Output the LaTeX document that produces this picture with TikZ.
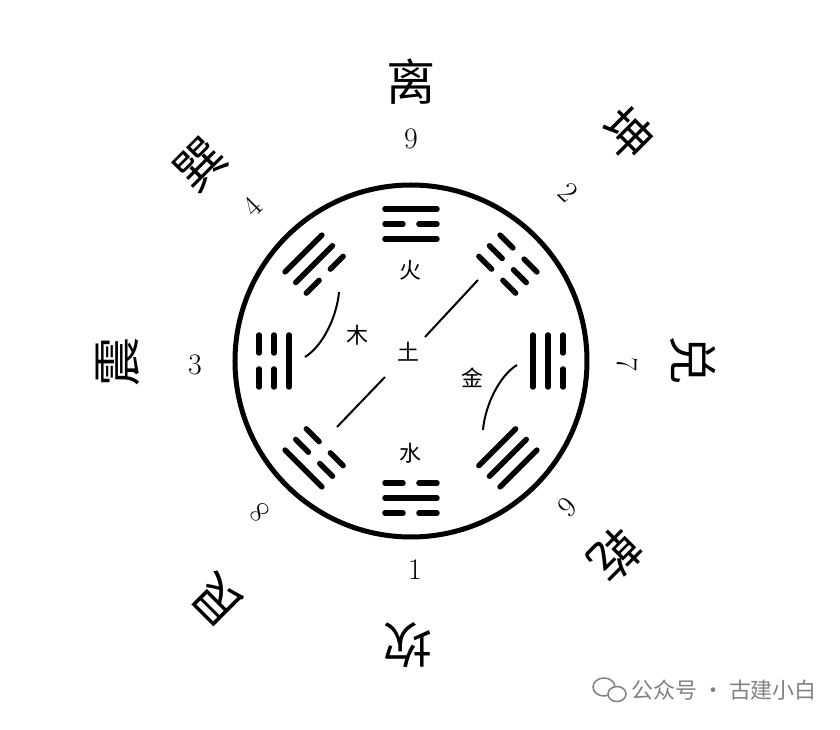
\documentclass[tikz,border=0pt]{standalone}
\usepackage{fontspec}
\newfontfamily\cjk{Noto Sans CJK SC}
\begin{document}
\begin{tikzpicture}[x=0.02cm,y=0.02cm]
		\tikzset{yao/.style={line width=0.11cm,line cap=round},
			gua/.style={font=\cjk\fontsize{28}{28}\selectfont,inner sep=0pt},
			shu/.style={font=\fontsize{17}{17}\selectfont,inner sep=0pt},
			xing/.style={font=\cjk\fontsize{12.5}{12.5}\selectfont,inner sep=0pt},
			thin/.style={line width=0.04cm}}
		\useasboundingbox (-411,-369) rectangle (429,361);
		\coordinate (o) at (0,0);
		\draw [black,line width=0.1cm] (o) circle (176);
		% trigrams, outer line first (1 solid, 0 broken)
		\foreach \ang/\a/\b/\c in {90/1/0/1, 45/0/0/0, 0/0/1/1, -45/1/1/1,
			-90/0/1/0, -135/1/0/0, 180/0/0/1, 135/1/1/0} {
			\begin{scope}[rotate=\ang-90]
				\foreach \r/\s in {152/\a,137/\b,122/\c} {
					\ifnum\s=1
						\draw [yao] (-26,\r) -- (26,\r);
					\else
						\draw [yao] (-26,\r) -- (-8,\r);
						\draw [yao] (8,\r) -- (26,\r);
					\fi
				}
			\end{scope}
		}
		% trigram names
		\node [gua] (li) at (0,279) {离};
		\node [gua,rotate=-45] (kun) at (217,227) {坤};
		\node [gua,rotate=-90] (dui) at (282,1) {兑};
		\node [gua,rotate=-135] (qian) at (204,-194) {乾};
		\node [gua,rotate=180] (kan) at (-3,-284) {坎};
		\node [gua,rotate=135] (gen) at (-193,-239) {艮};
		\node [gua,rotate=90] (zhen) at (-293,-1) {震};
		\node [gua,rotate=45] (xun) at (-211,196) {巽};
		% numbers
		\node [shu] (n9) at (0,222) {9};
		\node [shu,rotate=-45] (n2) at (157,169) {2};
		\node [shu,rotate=-90] (n7) at (216,-3) {7};
		\node [shu,rotate=-135] (n6) at (156,-146) {6};
		\node [shu] (n1) at (4,-209) {1};
		\node [shu,rotate=135] (n8) at (-151,-151) {8};
		\node [shu] (n3) at (-216,-4) {3};
		\node [shu,rotate=45] (n4) at (-159,154) {4};
		% elements
		\node [xing] (huo) at (-1,91) {火};
		\node [xing] (shui) at (-1,-92) {水};
		\node [xing] (mu) at (-54,26) {木};
		\node [xing] (jin) at (61,-17) {金};
		\node [xing] (tu) at (-3,9) {土};
		\draw [thin] (-74,-66) -- (-26,-16);
		\draw [thin] (14,24) -- (67,81);
		\draw [thin] (-72,69) .. controls (-74,45) and (-88,15) .. (-106,4);
		\draw [thin] (72,-69) .. controls (74,-45) and (88,-15) .. (106,-4);
		% watermark
		\begin{scope}[gray,line width=0.03cm]
			\draw (193,-326) ellipse (11 and 9);
			\draw[fill=white] (206,-333) ellipse (9 and 7.5);
		\end{scope}
		\node [font=\cjk\fontsize{12.5}{12.5}\selectfont,text=gray,anchor=west,inner sep=0pt] (wm) at (220,-329) {公众号 · 古建小白};
	\end{tikzpicture}
\end{document}
